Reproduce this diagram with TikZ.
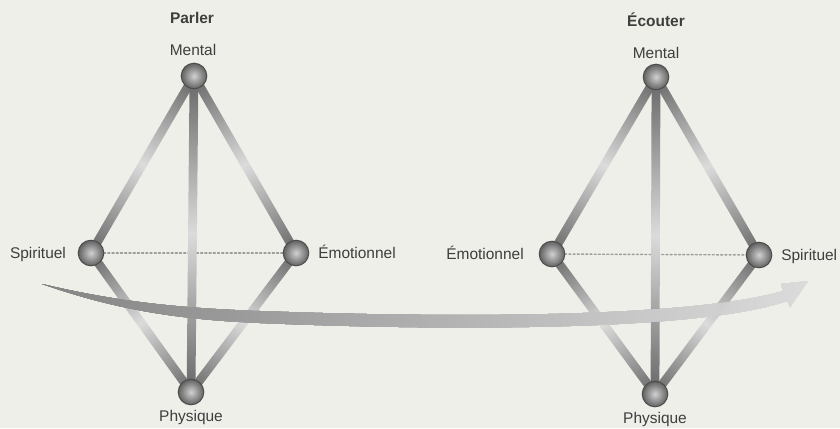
\documentclass[tikz,border=0pt]{standalone}
\usepackage{fontspec}
\setmainfont{Liberation Sans}
\usetikzlibrary{calc}
\definecolor{fond}{RGB}{238,239,232}
\definecolor{texte}{RGB}{62,62,62}
\tikzset{
  barre/.style={left color=black!60, right color=black!60, middle color=black!14},
  boule/.style={circle, inner sep=0pt, minimum size=0.64cm, draw=black!70, line width=0.7pt,
    inner color=black!18, outer color=black!62},
  etiq/.style={text=texte, anchor=base, inner sep=0pt},
  titre/.style={etiq, font=\fontsize{11}{13}\selectfont\bfseries},
  pointille/.style={black!38, line width=1pt, dash pattern=on 1.4pt off 1.6pt}
}
\newcommand{\lien}[2]{%
  \path let \p1=($(#2)-(#1)$) in
    \pgfextra{\pgfmathsetmacro\lienang{atan2(\y1,\x1)}\pgfmathsetmacro\lienlon{veclen(\x1,\y1)}%
      \xdef\lienang{\lienang}\xdef\lienlon{\lienlon}};
  \begin{scope}[transform canvas={shift={(#1)}, rotate=\lienang}]
    \shade[barre] (0pt,-0.11cm) rectangle (\lienlon pt,0.11cm);
  \end{scope}}
\begin{document}
\begin{tikzpicture}[x=0.025cm, y=-0.025cm, font=\fontsize{11}{13}\selectfont, line join=round, line cap=round]
  \fill[fond] (0,0) rectangle (840,428);
  \useasboundingbox (0,0) rectangle (840,428);
  % sommets : p = Parler, e = Ecouter
  \foreach \n/\x/\y in {pM/194/76, pS/91/253, pE/296/253, pP/191/392,
                        eM/656/77, eE/552/254, eS/759/255, eP/655/394}
    \coordinate (\n) at (\x,\y);
  \draw[pointille] (pS) -- (pE);
  \draw[pointille] (eE) -- (eS);
  \foreach \a/\b in {pM/pS, pM/pE, pM/pP, pS/pP, pE/pP, eM/eE, eM/eS, eM/eP, eE/eP, eS/eP}
    \lien{\a}{\b}
  % la fleche
  \shade[left color=black!48, right color=black!14, opacity=0.9]
    (42,284) .. controls (110,300) and (170,308) .. (260,311)
    .. controls (450,318) and (690,318) .. (783,291)
    -- (781,284) -- (808,281) -- (790,307) -- (787,301)
    .. controls (700,331) and (450,331) .. (260,323)
    .. controls (160,319) and (100,304) .. (42,284) -- cycle;
  \foreach \n in {pM, pS, pE, pP, eM, eE, eS, eP}
    \node[boule] (b\n) at (\n) {};
  % textes
  \node[titre] (tP) at (192,23.5) {Parler};
  \node[etiq] (tpM) at (193,55) {Mental};
  \node[etiq] (tpS) at (38,258.5) {Spirituel};
  \node[etiq] (tpE) at (357,258.5) {Émotionnel};
  \node[etiq] (tpP) at (191,421) {Physique};
  \node[titre] (tE) at (656,26.5) {Écouter};
  \node[etiq] (teM) at (656,58) {Mental};
  \node[etiq] (teE) at (485,259.5) {Émotionnel};
  \node[etiq, anchor=base west] (teS) at (781,260) {Spirituel};
  \node[etiq] (teP) at (655,423) {Physique};
\end{tikzpicture}
\end{document}
